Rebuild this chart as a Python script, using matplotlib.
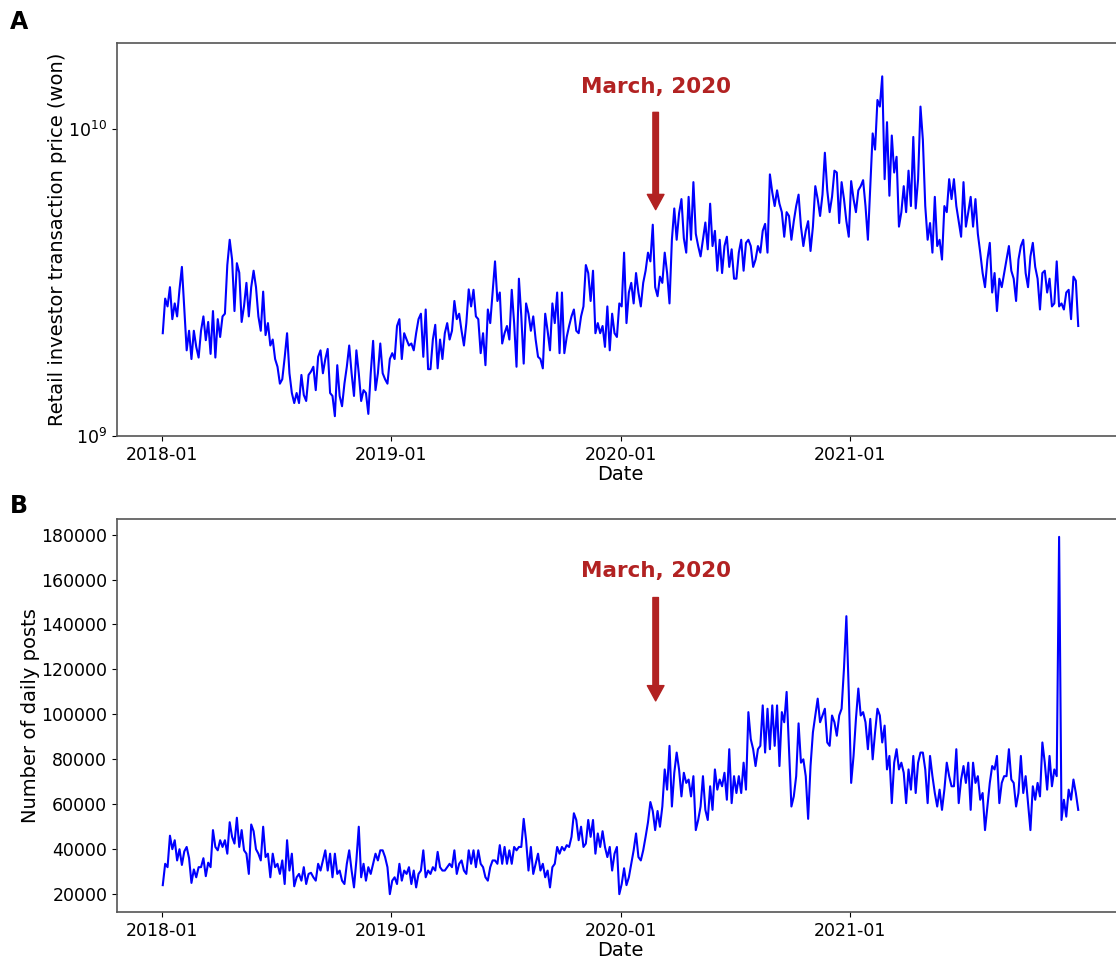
import matplotlib
matplotlib.use('Agg')
import matplotlib.pyplot as plt
import matplotlib.dates as mdates
from matplotlib.ticker import NullLocator
import numpy as np
import pandas as pd

# Retail investor transaction price, in billions of won (8 readings per month, 2018-01 .. 2021-12)
price_bn = [
    2.16, 2.8, 2.64, 3.05, 2.4, 2.7, 2.45, 3.0,
    3.55, 2.6, 1.9, 2.2, 1.78, 2.2, 1.95, 1.8,
    2.2, 2.45, 2.05, 2.35, 1.85, 2.55, 1.8, 2.4,
    2.1, 2.45, 2.5, 3.6, 4.35, 3.75, 2.55, 3.65,
    3.4, 2.35, 2.65, 3.15, 2.45, 3.05, 3.45, 3.05,
    2.45, 2.2, 2.95, 2.13, 2.33, 1.97, 2.06, 1.78,
    1.68, 1.48, 1.53, 1.8, 2.16, 1.6, 1.38, 1.28,
    1.38, 1.28, 1.58, 1.36, 1.3, 1.58, 1.62, 1.68,
    1.41, 1.81, 1.9, 1.6, 1.78, 1.92, 1.38, 1.35,
    1.16, 1.7, 1.35, 1.25, 1.48, 1.68, 1.97, 1.6,
    1.35, 1.9, 1.6, 1.3, 1.41, 1.38, 1.18, 1.6,
    2.04, 1.41, 1.6, 2.0, 1.6, 1.53, 1.48, 1.78,
    1.86, 1.78, 2.28, 2.4, 1.78, 2.16, 2.06, 1.97,
    2.0, 1.9, 2.16, 2.4, 2.5, 1.81, 2.58, 1.65,
    1.65, 2.06, 2.3, 1.66, 2.06, 1.78, 2.16, 2.33,
    2.06, 2.2, 2.75, 2.4, 2.5, 2.2, 1.97, 2.33,
    3.0, 2.64, 2.99, 2.45, 2.4, 1.86, 2.16, 1.7,
    2.58, 2.33, 2.93, 3.7, 2.75, 2.93, 2.0, 2.16,
    2.28, 2.06, 2.99, 2.33, 1.68, 3.25, 2.45, 1.72,
    2.7, 2.5, 2.2, 2.45, 2.06, 1.81, 1.78, 1.66,
    2.5, 2.2, 1.9, 2.7, 2.33, 2.93, 1.86, 2.93,
    1.86, 2.1, 2.28, 2.45, 2.58, 2.2, 2.16, 2.45,
    2.64, 3.6, 3.39, 2.75, 3.45, 2.16, 2.33, 2.16,
    2.28, 1.95, 2.64, 1.9, 2.5, 2.16, 2.1, 2.7,
    2.64, 3.95, 2.33, 2.93, 3.15, 2.7, 3.39, 2.93,
    2.64, 3.15, 3.45, 3.95, 3.7, 4.87, 3.05, 2.85,
    3.3, 3.15, 3.95, 3.39, 2.7, 4.35, 5.5, 4.35,
    5.3, 5.9, 4.4, 3.95, 6.0, 4.35, 6.7, 4.55,
    4.15, 3.84, 4.35, 4.95, 4.05, 5.7, 4.15, 4.65,
    3.45, 4.35, 3.39, 4.15, 4.45, 3.55, 4.05, 3.25,
    3.25, 3.95, 4.35, 3.45, 4.25, 4.35, 4.15, 3.55,
    3.75, 4.15, 3.95, 4.65, 4.9, 3.95, 7.1, 6.2,
    5.6, 6.3, 5.7, 5.35, 4.45, 5.35, 5.2, 4.35,
    5.0, 5.6, 6.1, 4.8, 4.15, 4.65, 5.0, 4.0,
    4.8, 6.5, 5.9, 5.2, 6.1, 8.35, 6.3, 5.35,
    6.0, 7.3, 7.2, 4.93, 6.7, 5.9, 5.0, 4.45,
    6.75, 5.9, 5.35, 6.3, 6.5, 6.8, 5.6, 4.35,
    6.5, 9.65, 8.55, 12.4, 11.8, 14.8, 6.85, 10.5,
    6.05, 9.5, 7.2, 8.1, 4.8, 5.35, 6.5, 5.35,
    7.3, 5.6, 9.4, 5.5, 6.85, 11.8, 9.2, 5.6,
    4.35, 4.93, 3.95, 6.0, 4.15, 4.35, 3.75, 5.6,
    5.35, 6.85, 5.9, 6.85, 5.6, 5.0, 4.45, 6.7,
    4.8, 5.35, 6.0, 4.8, 5.9, 4.55, 3.95, 3.39,
    3.05, 3.75, 4.25, 2.93, 3.39, 2.55, 3.25, 3.05,
    3.39, 3.75, 4.15, 3.45, 3.25, 2.75, 3.75, 4.15,
    4.35, 3.39, 3.05, 3.84, 4.25, 3.55, 3.25, 2.58,
    3.39, 3.45, 2.93, 3.25, 2.64, 2.7, 3.7, 2.64,
    2.7, 2.58, 2.93, 2.99, 2.4, 3.3, 3.2, 2.28,
]

# Number of daily posts (same sampling)
posts = [
    24000, 33500, 32000, 46000, 40000, 44000, 35000, 40000,
    33000, 39000, 41000, 36000, 25000, 31000, 27500, 32000,
    32000, 36000, 28000, 34000, 32000, 48500, 41000, 39500,
    44000, 41000, 44000, 38000, 52000, 45500, 42500, 54000,
    41000, 48500, 39500, 38000, 29000, 51000, 48000, 40000,
    38000, 35000, 50000, 36500, 38000, 27500, 38000, 32000,
    33500, 29000, 35000, 24500, 44000, 30500, 38000, 23500,
    27500, 29000, 26000, 32000, 24500, 29000, 29500, 27500,
    26000, 33500, 30500, 35000, 39500, 30500, 38000, 27500,
    38000, 29000, 30500, 26000, 24500, 33500, 39500, 30500,
    23000, 35000, 50000, 27500, 33500, 26000, 32000, 29000,
    33500, 38000, 35000, 39500, 39500, 36500, 32000, 20000,
    26000, 27500, 24500, 33500, 26000, 30500, 29000, 32000,
    24500, 30500, 23000, 29000, 30500, 39500, 27500, 30500,
    29000, 32000, 30500, 38800, 32000, 30500, 30500, 32000,
    33500, 32000, 39500, 29000, 33500, 35000, 30500, 29000,
    39500, 33500, 39500, 32000, 39500, 33500, 32000, 27500,
    26000, 32000, 35000, 35000, 33500, 41800, 33500, 41000,
    33500, 39500, 33500, 41000, 39500, 41000, 41000, 53500,
    44000, 30500, 41000, 29000, 33500, 38000, 30500, 33500,
    27500, 30500, 23000, 32000, 33500, 41000, 38000, 41000,
    39500, 41800, 41000, 45500, 56000, 53000, 44000, 50000,
    41000, 42500, 53000, 45500, 53000, 38000, 47000, 41000,
    48000, 41000, 36500, 41000, 30500, 38000, 41000, 20000,
    24500, 31500, 24000, 27500, 33500, 39500, 47000, 36500,
    35000, 39500, 45500, 52000, 61000, 57000, 48500, 57000,
    50000, 59000, 75500, 66500, 86000, 59000, 74000, 83000,
    75500, 63500, 74000, 69500, 71000, 63500, 72500, 48500,
    53000, 59000, 72500, 57500, 53000, 68000, 57500, 75500,
    66500, 71000, 68000, 74000, 62000, 84500, 60500, 72500,
    65000, 72500, 65000, 78500, 66500, 101000, 89000, 84500,
    77000, 84500, 86000, 104000, 83000, 102500, 84500, 104000,
    86000, 104000, 77000, 101000, 96500, 110000, 84500, 59000,
    63500, 72500, 96000, 78500, 80000, 72500, 53500, 77000,
    92000, 99500, 107000, 96500, 99500, 102500, 87500, 86000,
    99500, 96500, 90500, 99500, 102500, 120500, 143700, 110000,
    69500, 81500, 98000, 111500, 99500, 101000, 96500, 84500,
    98000, 80000, 92000, 102500, 99500, 87500, 95000, 75500,
    81500, 60500, 78500, 84500, 75500, 78500, 74000, 60500,
    75500, 66500, 81500, 65000, 78500, 83000, 83000, 75500,
    60500, 81500, 72500, 65000, 59000, 66500, 57500, 66500,
    78500, 72500, 68000, 68000, 84500, 60500, 71000, 77000,
    69500, 78500, 57500, 78500, 69500, 72500, 62000, 65000,
    48500, 59000, 69500, 77000, 75500, 81500, 60500, 69500,
    72500, 72500, 84500, 71000, 69500, 59000, 65000, 81500,
    65000, 72500, 60500, 48500, 68000, 62000, 69500, 63500,
    87500, 78500, 66500, 81500, 68000, 75500, 72500, 179000,
    53000, 62000, 54500, 66500, 62000, 71000, 65000, 57500,
]

dates = pd.date_range('2018-01-02', '2021-12-30', periods=len(price_bn))
price = np.array(price_bn) * 1e9
year_ticks = pd.to_datetime(['2018-01-01', '2019-01-01', '2020-01-01', '2021-01-01'])
march = pd.Timestamp('2020-02-26')

W, H = 1116, 963
fig = plt.figure(figsize=(W / 100, H / 100), dpi=100)
axw = (1124 - 117) / W
ax1 = fig.add_axes([117 / W, 1 - 436 / H, axw, 393 / H])
ax2 = fig.add_axes([117 / W, 1 - 912 / H, axw, 393 / H])

red = '#b22222'
arrow = dict(facecolor=red, edgecolor=red, width=4, headwidth=12, headlength=11)

# Panel A
ax1.plot(dates, price, color='blue', lw=1.5)
ax1.set_yscale('log')
ax1.set_ylim(1e9, 1.9e10)
ax1.yaxis.set_minor_locator(NullLocator())
ax1.set_ylabel('Retail investor transaction price (won)', fontsize=14, labelpad=1)
ax1.annotate('', xy=(march, 5.45e9), xytext=(march, 1.13e10), arrowprops=arrow)
ax1.text(march, 1.37e10, 'March, 2020', color=red, fontsize=15.5,
         fontweight='bold', ha='center', va='center')

# Panel B
ax2.plot(dates, posts, color='blue', lw=1.5)
ax2.set_yticks(range(20000, 180001, 20000))
ax2.set_ylabel('Number of daily posts', fontsize=14, labelpad=1)
ax2.annotate('', xy=(march, 106000), xytext=(march, 152000), arrowprops=arrow)
ax2.text(march, 164000, 'March, 2020', color=red, fontsize=15.5,
         fontweight='bold', ha='center', va='center')

for ax in (ax1, ax2):
    ax.set_xticks(year_ticks)
    ax.xaxis.set_major_formatter(mdates.DateFormatter('%Y-%m'))
    ax.set_xlabel('Date', fontsize=14, labelpad=1)
    ax.tick_params(labelsize=12.5)
    for s in ax.spines.values():
        s.set_color('#555555')
        s.set_linewidth(1.2)

fig.text(10 / W, 1 - 22 / H, 'A', fontsize=17, fontweight='bold', va='center')
fig.text(10 / W, 1 - 506 / H, 'B', fontsize=17, fontweight='bold', va='center')

fig.savefig('out.png', dpi=100)
